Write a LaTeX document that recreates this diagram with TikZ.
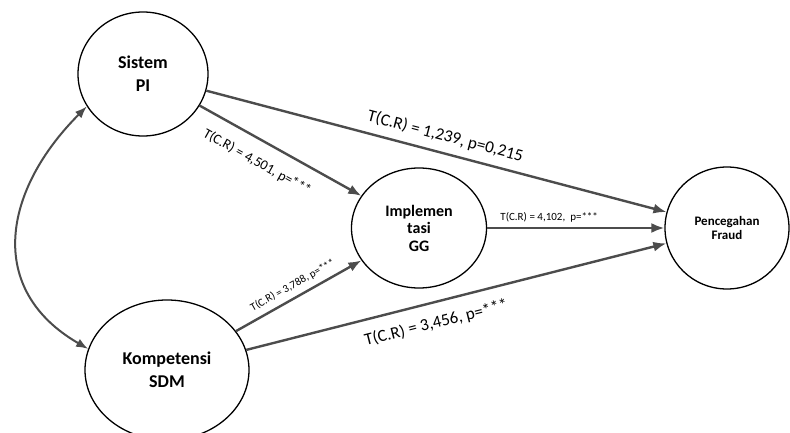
\documentclass[tikz,border=0pt]{standalone}
\usepackage{fontspec}
\setmainfont{Carlito}
\usetikzlibrary{arrows.meta, positioning, shapes.geometric}

\begin{document}
\begin{tikzpicture}[x=1pt, y=1pt,
    var/.style={draw, ellipse, line width=1.3pt, inner sep=0pt, align=center,
        font=\bfseries\fontsize{18}{23}\selectfont},
    rel/.style={draw=black!70, line width=2.4pt, -{Latex[length=13pt,width=10pt]}},
    lbl/.style={sloped, inner sep=1pt, font=\fontsize{17}{20}\selectfont}]
	\useasboundingbox (0,0) rectangle (790,432);

	% variabel
	\node[var, minimum width=130pt, minimum height=124pt] (sistem) at (143,358) {Sistem\\PI};
	\node[var, minimum width=164pt, minimum height=140pt] (komp) at (167,62) {Kompetensi\\SDM};
	\node[var, minimum width=135pt, minimum height=120pt,
	      font=\bfseries\fontsize{16}{17.5}\selectfont] (impl) at (419,204) {Implemen\\tasi\\GG};
	\node[var, minimum width=124pt, minimum height=122pt,
	      font=\bfseries\fontsize{13}{14.5}\selectfont] (fraud) at (727,204) {Pencegahan\\Fraud};

	% jalur
	\draw[rel] (sistem) -- node[lbl, pos=0.51, above=7pt] {T(C.R) = 1,239, p=0,215} (fraud);
	\draw[rel] (sistem) -- node[lbl, pos=0.42, below=13pt, font=\fontsize{14}{16}\selectfont] {T(C.R) = 4,501, p=***} (impl);
	\draw[rel] (komp) -- node[lbl, pos=0.5, above=5pt, font=\fontsize{11}{13}\selectfont] {T(C.R) = 3,788, p=***} (impl);
	\draw[rel] (komp) -- node[lbl, pos=0.44, below=11pt] {T(C.R) = 3,456, p=***} (fraud);
	\draw[rel] (impl) -- node[lbl, pos=0.35, above=4pt, font=\fontsize{11}{13}\selectfont] {T(C.R) = 4,102,\ \ p=***} (fraud);

	% korelasi
	\draw[draw=black!70, line width=2pt, {Latex[length=12pt,width=9pt]}-{Latex[length=12pt,width=9pt]}]
		(sistem.210) to[out=225, in=150, looseness=1.25] (komp.165);
\end{tikzpicture}
\end{document}
